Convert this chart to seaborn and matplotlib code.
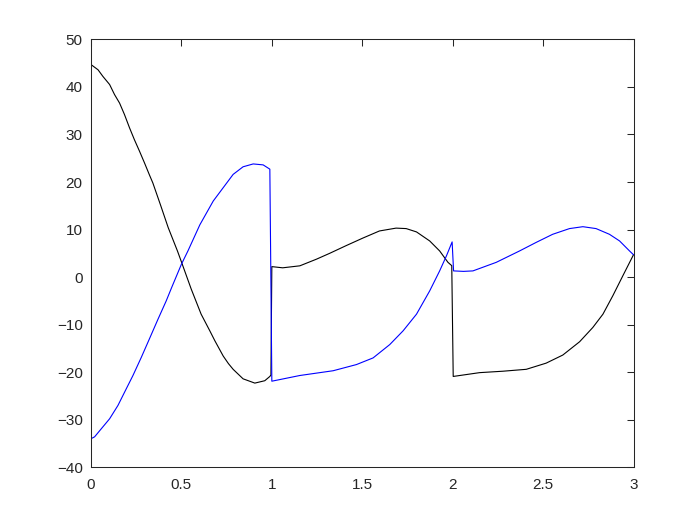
import pandas as pd
import seaborn as sns
import matplotlib.pyplot as plt

# black curve (three pieces with jumps at t=1 and t=2)
t_black = [0, 0.039, 0.066, 0.103, 0.13, 0.158, 0.185, 0.213, 0.24, 0.268, 0.296,
           0.323, 0.342, 0.385, 0.427, 0.478, 0.5, 0.554, 0.609, 0.657, 0.685,
           0.731, 0.76, 0.786, 0.841, 0.906, 0.961, 0.989, 0.995,
           1.0, 1.06, 1.155, 1.247, 1.32, 1.41, 1.503, 1.595, 1.687, 1.743, 1.8,
           1.873, 1.928, 1.974, 1.995,
           2.003, 2.149, 2.278, 2.407, 2.517, 2.609, 2.702, 2.775, 2.831, 2.886,
           2.941, 3.0]
y_black = [44.7, 43.6, 42.2, 40.5, 38.4, 36.6, 34.2, 31.4, 28.9, 26.5, 24.0,
           21.5, 19.8, 15.1, 10.4, 5.5, 3.2, -2.5, -7.8, -11.3, -13.4,
           -16.6, -18.2, -19.4, -21.4, -22.3, -21.8, -20.9, -20.6,
           2.2, 1.95, 2.37, 3.77, 5.0, 6.6, 8.2, 9.7, 10.3, 10.2, 9.5,
           7.6, 5.5, 3.1, 2.4,
           -20.9, -20.1, -19.8, -19.4, -18.1, -16.4, -13.6, -10.6, -7.8, -3.9,
           0.27, 4.7]

# blue curve
t_blue = [0, 0.02, 0.057, 0.103, 0.149, 0.195, 0.232, 0.278, 0.323, 0.37, 0.416,
          0.446, 0.5, 0.536, 0.602, 0.676, 0.731, 0.786, 0.841, 0.897, 0.952,
          0.989,
          1.0, 1.155, 1.339, 1.468, 1.56, 1.652, 1.726, 1.8, 1.873, 1.928, 1.966,
          1.997,
          2.005, 2.06, 2.112, 2.241, 2.37, 2.462, 2.553, 2.646, 2.72, 2.793,
          2.867, 2.923, 2.978, 3.0]
y_blue = [-34.0, -33.6, -31.9, -29.8, -27.0, -23.5, -20.7, -16.9, -13.0, -8.9, -5.0,
          -2.2, 2.7, 5.5, 11.0, 16.0, 18.8, 21.6, 23.2, 23.8, 23.6,
          22.7,
          -21.9, -20.7, -19.7, -18.4, -17.0, -14.2, -11.3, -7.8, -2.9, 1.3, 4.5,
          7.4,
          1.3, 1.2, 1.3, 3.1, 5.5, 7.3, 9.0, 10.2, 10.6, 10.2,
          9.0, 7.6, 5.5, 4.7]

x_ticks = [0, 0.5, 1, 1.5, 2, 2.5, 3]
y_ticks = [-40, -30, -20, -10, 0, 10, 20, 30, 40, 50]

sns.set_style('white')
plt.rcParams['font.family'] = ['Liberation Sans', 'DejaVu Sans']

df_black = pd.DataFrame({'t': t_black, 'y': y_black})
df_blue = pd.DataFrame({'t': t_blue, 'y': y_blue})

fig = plt.figure(figsize=(7, 5.25), dpi=100)
ax = fig.add_axes([0.13, 0.11, 0.775, 0.815])

sns.lineplot(data=df_black, x='t', y='y', sort=False, estimator=None,
             color='black', linewidth=0.8, ax=ax)
sns.lineplot(data=df_blue, x='t', y='y', sort=False, estimator=None,
             color='#0000ff', linewidth=0.8, ax=ax)

ax.set_xlim(0, 3)
ax.set_ylim(-40, 50)
ax.set_xticks(x_ticks)
ax.set_xticklabels([f'{v:g}' for v in x_ticks])
ax.set_yticks(y_ticks)
ax.set_xlabel('')
ax.set_ylabel('')

for sp in ax.spines.values():
    sp.set_visible(True)
    sp.set_color('#262626')
    sp.set_linewidth(0.75)
ax.tick_params(direction='in', top=True, right=True, length=5, width=0.75,
               colors='#262626', labelsize=11)
ax.tick_params(axis='y', pad=6)
ax.tick_params(axis='x', pad=8)

plt.savefig('out.png', dpi=100)
plt.close()
